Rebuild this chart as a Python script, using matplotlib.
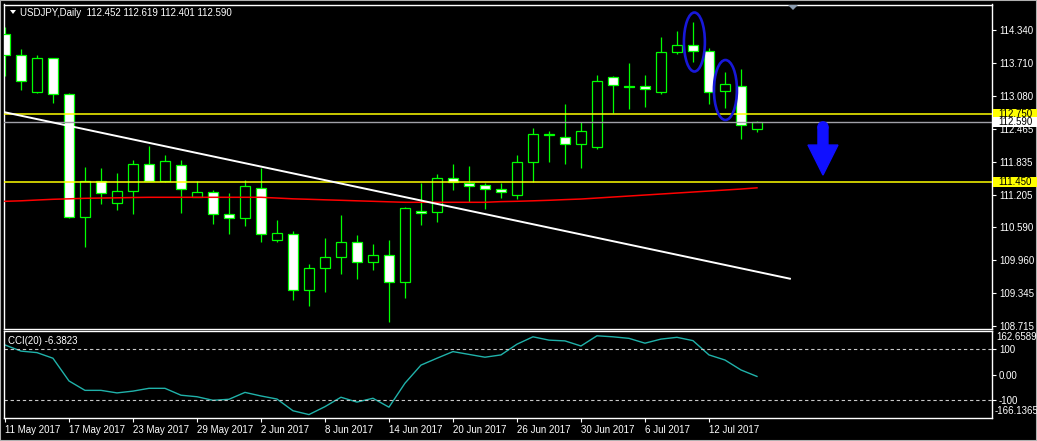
import numpy as np
import matplotlib
matplotlib.use("Agg")
import matplotlib.pyplot as plt
from matplotlib.patches import Ellipse, FancyArrow, Polygon, Rectangle

plt.rcParams['font.family'] = ['Liberation Sans', 'DejaVu Sans']

# daily USDJPY bars, 11 May 2017 .. 17 Jul 2017
opens = [114.258, 113.86, 113.167, 113.80, 113.12, 110.79, 111.465, 111.05, 111.29, 111.79,
         111.48, 111.77, 111.17, 111.26, 110.84, 110.76, 111.33, 110.34, 110.46, 109.39,
         109.81, 110.02, 110.31, 109.93, 110.06, 109.56, 110.91, 110.88, 111.52, 111.44,
         111.39, 111.31, 111.20, 111.84, 112.34, 112.30, 112.17, 112.11, 113.44, 113.28,
         113.27, 113.17, 113.92, 114.05, 113.95, 113.18, 113.27, 112.452]
highs = [114.40, 113.98, 113.865, 113.80, 113.15, 111.74, 111.72, 111.62, 111.87, 112.14,
         111.97, 111.87, 111.47, 111.30, 111.24, 111.49, 111.72, 110.73, 110.52, 109.89,
         110.38, 110.82, 110.44, 110.27, 110.35, 110.97, 111.44, 111.61, 111.80, 111.76,
         111.44, 111.44, 111.97, 112.48, 112.42, 112.93, 112.60, 113.48, 113.46, 113.71,
         113.48, 114.21, 114.32, 114.49, 113.99, 113.54, 113.60, 112.619]
lows = [113.47, 113.20, 113.15, 112.95, 110.77, 110.22, 111.04, 110.92, 110.85, 111.48,
        111.45, 110.87, 111.17, 110.66, 110.47, 110.62, 110.32, 110.31, 109.21, 109.10,
        109.37, 109.71, 109.61, 109.77, 108.80, 109.25, 110.64, 110.70, 111.30, 111.08,
        110.94, 111.15, 111.12, 111.45, 111.84, 111.80, 111.72, 112.08, 112.76, 112.83,
        112.88, 113.12, 113.88, 113.73, 112.93, 112.86, 112.26, 112.401]
closes = [113.86, 113.37, 113.80, 113.12, 110.79, 111.465, 111.25, 111.29, 111.79, 111.48,
          111.85, 111.31, 111.26, 110.84, 110.76, 111.37, 110.46, 110.48, 109.39, 109.81,
          110.02, 110.31, 109.93, 110.06, 109.56, 110.95, 110.86, 111.52, 111.46, 111.37,
          111.31, 111.27, 111.84, 112.36, 112.36, 112.17, 112.42, 113.38, 113.29, 113.26,
          113.21, 113.92, 114.05, 113.95, 113.17, 113.31, 112.53, 112.590]

# red moving average
ma = [111.085, 111.094, 111.109, 111.123, 111.132, 111.142, 111.147, 111.151, 111.157, 111.161,
      111.161, 111.161, 111.161, 111.161, 111.161, 111.161, 111.161, 111.147, 111.132, 111.123,
      111.113, 111.104, 111.094, 111.085, 111.075, 111.066, 111.066, 111.066, 111.066, 111.066,
      111.066, 111.079, 111.085, 111.094, 111.104, 111.117, 111.128, 111.147, 111.166, 111.185,
      111.204, 111.223, 111.242, 111.261, 111.280, 111.299, 111.318, 111.341]

# CCI(20)
cci_vals = [117, 93, 87, 65, -24, -61, -61, -71, -64, -53,
            -53, -80, -86, -100, -96, -69, -83, -95, -141, -156,
            -125, -88, -107, -92, -127, -33, 38, 65, 91, 80,
            69, 78, 120, 149, 136, 133, 113, 153, 149, 143,
            124, 140, 147, 134, 78, 58, 19, -6.3823]

date_ticks = [0, 4, 8, 12, 16, 20, 24, 28, 32, 36, 40, 44]
date_labels = ["11 May 2017", "17 May 2017", "23 May 2017", "29 May 2017", "2 Jun 2017",
               "8 Jun 2017", "14 Jun 2017", "20 Jun 2017", "26 Jun 2017", "30 Jun 2017",
               "6 Jul 2017", "12 Jul 2017"]
price_ticks = [114.340, 113.710, 113.080, 112.465, 111.835, 111.205, 110.590, 109.960, 109.345, 108.715]

level_lines = [112.750, 111.450]
bid = 112.590
trend_x = [0, 49.06]
trend_y = [112.776, 109.614]

W, H = 1037, 441
fig = plt.figure(figsize=(W / 100, H / 100), dpi=100, facecolor='black')

def px_axes(x0, y0, x1, y1):
    return [x0 / W, 1 - y1 / H, (x1 - x0) / W, (y1 - y0) / H]

ax = fig.add_axes(px_axes(4, 4.5, 992, 329), facecolor='black')
ax2 = fig.add_axes(px_axes(4, 331, 992, 418.3), facecolor='black')

for a in (ax, ax2):
    for s in a.spines.values():
        s.set_color('white')
        s.set_linewidth(1.0)
    a.set_xlim(-0.06, 61.69)

idx = np.arange(len(opens))
o = np.array(opens); c = np.array(closes)
green = '#00ff00'

# candles
ax.vlines(idx, lows, highs, color=green, lw=0.9, zorder=2)
fills = ['white' if cc < oo else 'black' for oo, cc in zip(o, c)]
ax.bar(idx, np.maximum(np.abs(c - o), 0.004), bottom=np.minimum(o, c), width=0.64,
       color=fills, edgecolor=green, linewidth=0.9, zorder=3)

ax.plot(idx, ma, color='#ff0000', lw=1.1, zorder=4)
for lv in level_lines:
    ax.axhline(lv, color='#ffff00', lw=1.1, zorder=4)
ax.axhline(bid, color='#a0a0a8', lw=1.0, zorder=4)
ax.plot(trend_x, trend_y, color='white', lw=1.4, zorder=4)

# blue markings
ax.add_patch(Ellipse((43.09, 114.112), 1.31, 1.121, fill=False, ec='#1818d8', lw=1.9, zorder=6))
ax.add_patch(Ellipse((45.03, 113.200), 1.44, 1.14, fill=False, ec='#1818d8', lw=1.9, zorder=6))
ax.add_patch(FancyArrow(51.125, 112.50, 0, -(112.50 - 111.584), width=0.625, head_width=1.875,
                        head_length=0.57, length_includes_head=True, color='#1010ff', zorder=6))
ax.add_patch(Ellipse((51.125, 112.50), 0.625, 0.19, color='#1010ff', zorder=6))

ax.set_ylim(108.658, 114.825)
ax.yaxis.tick_right()
ax.set_yticks(price_ticks)
ax.set_yticklabels(["%.3f" % p for p in price_ticks])
ax.tick_params(axis='y', colors='white', labelsize=7, length=3, width=0.8, pad=2)
ax.tick_params(axis='x', bottom=False, labelbottom=False)

# price boxes on the right scale
fig.canvas.draw()
for val, fc in [(112.750, '#ffff00'), (111.450, '#ffff00'), (bid, 'white')]:
    ypix = ax.transData.transform((0, val))[1]
    fig.patches.append(Rectangle((993 / W, (ypix - 5) / H), 44 / W, 10 / H,
                                 transform=fig.transFigure, fc=fc, ec='none', zorder=5))
    fig.text(998 / W, ypix / H, "%.3f" % val, color='black', fontsize=7,
             va='center', ha='left', zorder=6)

# CCI panel
ax2.plot(idx, cci_vals, color='#20b2aa', lw=1.0)
for lv in (100, -100):
    ax2.axhline(lv, color='#c8c8c8', lw=0.8, ls=(0, (3, 2.5)))
ax2.set_ylim(-170.6, 171.8)
ax2.yaxis.tick_right()
ax2.set_yticks([100, 0, -100])
ax2.set_yticklabels(["100", "0.00", "-100"])
ax2.tick_params(axis='y', colors='white', labelsize=7, length=3, width=0.8, pad=2)
ax2.set_xticks(date_ticks)
ax2.set_xticklabels(date_labels, ha='left')
ax2.tick_params(axis='x', colors='white', labelsize=7, length=3, width=0.8, pad=2)
fig.text(996 / W, 1 - 337 / H, "162.6589", color='white', fontsize=7, ha='left', va='center')
fig.text(995 / W, 1 - 411 / H, "-166.1365", color='white', fontsize=7, ha='left', va='center')

# header texts
fig.text(20 / W, 1 - 13 / H, "USDJPY,Daily  112.452 112.619 112.401 112.590",
         color='white', fontsize=7, va='center')
fig.text(8 / W, 1 - 341 / H, "CCI(20) -6.3823", color='white', fontsize=7, va='center')
fig.patches.append(Polygon([(10 / W, 1 - 10 / H), (16 / W, 1 - 10 / H), (13 / W, 1 - 14 / H)],
                           closed=True, transform=fig.transFigure, fc='white', ec='none'))
fig.patches.append(Polygon([(788 / W, 1 - 5 / H), (798 / W, 1 - 5 / H), (793 / W, 1 - 10 / H)],
                           closed=True, transform=fig.transFigure, fc='#8c9cb0', ec='none'))
fig.patches.append(Rectangle((0, 0), 1, 1, transform=fig.transFigure, fill=False,
                             ec='#b0b0b0', lw=1.5))

fig.savefig('out.png', dpi=100, facecolor='black')
